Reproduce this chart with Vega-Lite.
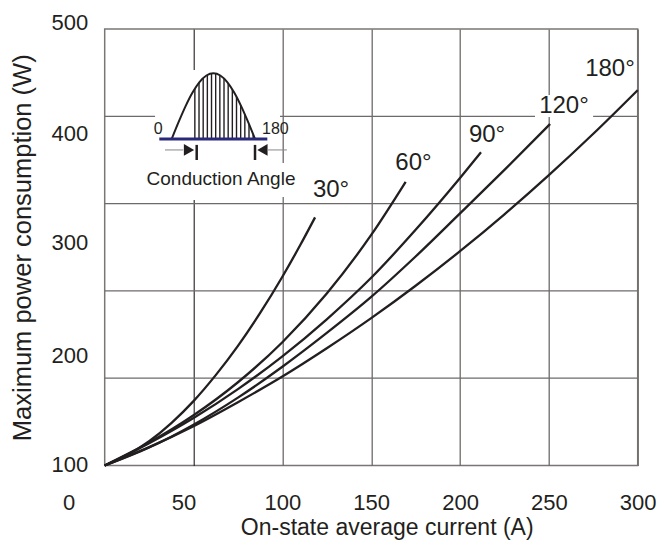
{
  "$schema": "https://vega.github.io/schema/vega-lite/v6.json",
  "autosize": {"type": "none"},
  "width": 533,
  "height": 436.5,
  "padding": {"left": 104.7, "top": 29, "right": 20.3, "bottom": 79.5},
  "background": "white",
  "config": {
    "font": "Liberation Sans",
    "view": {"stroke": "#7a7676", "strokeWidth": 1.5},
    "axis": {
      "domain": false, "ticks": false, "tickSize": 0,
      "labelFont": "Liberation Sans", "labelFontSize": 22, "labelColor": "#231f20",
      "labelFlush": false, "labelOverlap": false,
      "titleFont": "Liberation Sans", "titleFontWeight": "normal", "titleColor": "#231f20",
      "gridColor": "#6e6a6a", "gridWidth": 1.3
    }
  },
  "datasets": {
    "curves": [
      {"series": "30°", "I": 0, "P": 100}, {"series": "30°", "I": 12.5, "P": 109.3}, {"series": "30°", "I": 25, "P": 122.2}, {"series": "30°", "I": 37.5, "P": 138.9}, {"series": "30°", "I": 50, "P": 159}, {"series": "30°", "I": 62.5, "P": 182.8}, {"series": "30°", "I": 75, "P": 209.6}, {"series": "30°", "I": 87.5, "P": 239.8}, {"series": "30°", "I": 100, "P": 273}, {"series": "30°", "I": 110, "P": 301.8}, {"series": "30°", "I": 118.4, "P": 327.4},
      {"series": "60°", "I": 0, "P": 100}, {"series": "60°", "I": 25, "P": 121}, {"series": "60°", "I": 50, "P": 146}, {"series": "60°", "I": 75, "P": 176.3}, {"series": "60°", "I": 100, "P": 213}, {"series": "60°", "I": 125, "P": 257.6}, {"series": "60°", "I": 150, "P": 311.3}, {"series": "60°", "I": 169.4, "P": 360},
      {"series": "90°", "I": 0, "P": 100}, {"series": "90°", "I": 25, "P": 120.4}, {"series": "90°", "I": 50, "P": 143.5}, {"series": "90°", "I": 75, "P": 170}, {"series": "90°", "I": 100, "P": 200}, {"series": "90°", "I": 125, "P": 234}, {"series": "90°", "I": 150, "P": 272}, {"series": "90°", "I": 175, "P": 316}, {"series": "90°", "I": 200, "P": 363.5}, {"series": "90°", "I": 211.8, "P": 387},
      {"series": "120°", "I": 0, "P": 100}, {"series": "120°", "I": 25, "P": 116.5}, {"series": "120°", "I": 50, "P": 137.4}, {"series": "120°", "I": 75, "P": 162.2}, {"series": "120°", "I": 100, "P": 190.5}, {"series": "120°", "I": 125, "P": 221.5}, {"series": "120°", "I": 150, "P": 254.5}, {"series": "120°", "I": 175, "P": 291.5}, {"series": "120°", "I": 200, "P": 331}, {"series": "120°", "I": 225, "P": 370.9}, {"series": "120°", "I": 250.7, "P": 413},
      {"series": "180°", "I": 0, "P": 100}, {"series": "180°", "I": 25, "P": 116.8}, {"series": "180°", "I": 50, "P": 136}, {"series": "180°", "I": 75, "P": 158}, {"series": "180°", "I": 100, "P": 181.5}, {"series": "180°", "I": 125, "P": 207.4}, {"series": "180°", "I": 150, "P": 235}, {"series": "180°", "I": 175, "P": 264.7}, {"series": "180°", "I": 200, "P": 296.4}, {"series": "180°", "I": 225, "P": 330.2}, {"series": "180°", "I": 250, "P": 366.1}, {"series": "180°", "I": 275, "P": 404}, {"series": "180°", "I": 300, "P": 444}
    ],
    "hgrid": [{"P": 180}, {"P": 260}, {"P": 340}, {"P": 420}],
    "curveLabels": [
      {"label": "30°", "I": 127.4, "P": 352.5},
      {"label": "60°", "I": 173.8, "P": 377.2},
      {"label": "90°", "I": 215.2, "P": 403.3},
      {"label": "120°", "I": 258.5, "P": 429.4},
      {"label": "180°", "I": 284.4, "P": 463.3}
    ],
    "labelBg": [{"I": 242.2, "I2": 274.9, "P": 419.4, "P2": 439.5}],
    "insetBox": [
      {"a": -36, "a2": 234, "s": 1.05, "s2": -0.93},
      {"a": -68.5, "a2": 262.6, "s": -0.365, "s2": -0.883}
    ],
    "insetBase": [{"a": -26.8, "a2": 206.6, "s": 0}],
    "insetWave": [
      {"a": 0, "s": 0}, {"a": 15, "s": 0.259}, {"a": 30, "s": 0.5}, {"a": 45, "s": 0.707}, {"a": 60, "s": 0.866}, {"a": 75, "s": 0.966}, {"a": 90, "s": 1}, {"a": 105, "s": 0.966}, {"a": 120, "s": 0.866}, {"a": 135, "s": 0.707}, {"a": 150, "s": 0.5}, {"a": 165, "s": 0.259}, {"a": 180, "s": 0}
    ],
    "insetHatch": [
      {"a": 50, "s0": 0, "s": 0.766}, {"a": 59, "s0": 0, "s": 0.857}, {"a": 68, "s0": 0, "s": 0.927}, {"a": 77, "s0": 0, "s": 0.974}, {"a": 86, "s0": 0, "s": 0.998}, {"a": 95, "s0": 0, "s": 0.996}, {"a": 104, "s0": 0, "s": 0.97}, {"a": 113, "s0": 0, "s": 0.921}, {"a": 122, "s0": 0, "s": 0.848}, {"a": 131, "s0": 0, "s": 0.755}, {"a": 140, "s0": 0, "s": 0.643}, {"a": 149, "s0": 0, "s": 0.515}, {"a": 158, "s0": 0, "s": 0.375}, {"a": 167, "s0": 0, "s": 0.225}, {"a": 176, "s0": 0, "s": 0.07}
    ],
    "insetLeads": [{"a": -14.5, "a2": 25, "s": -0.167}, {"a": 208, "a2": 249, "s": -0.167}],
    "insetBars": [{"a": 54, "s": -0.09, "s2": -0.32}, {"a": 180, "s": -0.09, "s2": -0.32}],
    "insetHeads": [{"a": 37.4, "s": -0.167, "dir": "right"}, {"a": 196, "s": -0.167, "dir": "left"}],
    "insetEnds": [{"t": "0", "a": -29, "s": 0.148}, {"t": "180", "a": 224, "s": 0.148}],
    "insetCaption": [{"t": "Conduction Angle", "a": 106.5, "s": -0.609}]
  },
  "layer": [
    {
      "data": {"name": "hgrid"},
      "mark": {"type": "rule", "color": "#6e6a6a", "strokeWidth": 1.3},
      "encoding": {
        "y": {
          "field": "P", "type": "quantitative",
          "scale": {"domain": [100, 500], "nice": false, "zero": false},
          "axis": {
            "orient": "left",
            "values": [100, 200],
            "grid": false,
            "labelPadding": 17,
            "labelOffset": -1,
            "title": "Maximum power consumption (W)",
            "titleFontSize": 25.5,
            "titlePadding": 15
          }
        }
      }
    },
    {
      "layer": [
        {
          "data": {"name": "insetBox"},
          "mark": {"type": "rect", "fill": "white", "strokeWidth": 0},
          "encoding": {
            "x": {"field": "a", "type": "quantitative", "scale": {"domain": [-144.8, 1006.9], "nice": false, "zero": false}, "axis": null},
            "x2": {"field": "a2"},
            "y": {"field": "s", "type": "quantitative", "scale": {"domain": [-4.97, 1.674], "nice": false, "zero": false}, "axis": null},
            "y2": {"field": "s2"}
          }
        },
        {
          "data": {"name": "insetHatch"},
          "mark": {"type": "rule", "color": "#231f20", "strokeWidth": 1.4},
          "encoding": {
            "x": {"field": "a", "type": "quantitative", "axis": null},
            "y": {"field": "s0", "type": "quantitative", "axis": null},
            "y2": {"field": "s"}
          }
        },
        {
          "data": {"name": "insetWave"},
          "mark": {"type": "line", "color": "#231f20", "strokeWidth": 2, "interpolate": "monotone"},
          "encoding": {
            "x": {"field": "a", "type": "quantitative", "axis": null},
            "y": {"field": "s", "type": "quantitative", "axis": null}
          }
        },
        {
          "data": {"name": "insetBase"},
          "mark": {"type": "rule", "color": "#2a2878", "strokeWidth": 3},
          "encoding": {
            "x": {"field": "a", "type": "quantitative", "axis": null},
            "x2": {"field": "a2"},
            "y": {"field": "s", "type": "quantitative", "axis": null}
          }
        },
        {
          "data": {"name": "insetLeads"},
          "mark": {"type": "rule", "color": "#8a8686", "strokeWidth": 1},
          "encoding": {
            "x": {"field": "a", "type": "quantitative", "axis": null},
            "x2": {"field": "a2"},
            "y": {"field": "s", "type": "quantitative", "axis": null}
          }
        },
        {
          "data": {"name": "insetBars"},
          "mark": {"type": "rule", "color": "#231f20", "strokeWidth": 2.5},
          "encoding": {
            "x": {"field": "a", "type": "quantitative", "axis": null},
            "y": {"field": "s", "type": "quantitative", "axis": null},
            "y2": {"field": "s2"}
          }
        },
        {
          "data": {"name": "insetHeads"},
          "mark": {"type": "point", "filled": true, "color": "#231f20", "size": 140, "opacity": 1},
          "encoding": {
            "x": {"field": "a", "type": "quantitative", "axis": null},
            "y": {"field": "s", "type": "quantitative", "axis": null},
            "shape": {"field": "dir", "type": "nominal", "scale": {"domain": ["right", "left"], "range": ["triangle-right", "triangle-left"]}, "legend": null}
          }
        },
        {
          "data": {"name": "insetEnds"},
          "mark": {"type": "text", "font": "Liberation Sans", "fontSize": 16, "color": "#231f20", "align": "center", "baseline": "middle"},
          "encoding": {
            "x": {"field": "a", "type": "quantitative", "axis": null},
            "y": {"field": "s", "type": "quantitative", "axis": null},
            "text": {"field": "t"}
          }
        },
        {
          "data": {"name": "insetCaption"},
          "mark": {"type": "text", "font": "Liberation Sans", "fontSize": 19, "color": "#231f20", "align": "center", "baseline": "middle"},
          "encoding": {
            "x": {"field": "a", "type": "quantitative", "axis": null},
            "y": {"field": "s", "type": "quantitative", "axis": null},
            "text": {"field": "t"}
          }
        }
      ]
    },
    {
      "layer": [
        {
          "data": {"name": "curves"},
          "mark": {"type": "line", "color": "#231f20", "strokeWidth": 2.3, "interpolate": "monotone"},
          "encoding": {
            "x": {
              "field": "I", "type": "quantitative",
              "scale": {"domain": [0, 300], "nice": false, "zero": false},
              "axis": {
                "orient": "bottom",
                "values": [100, 150, 200, 250, 300],
                "grid": true,
                "labelPadding": 27,
                "title": "On-state average current (A)",
                "titleFontSize": 23,
                "titlePadding": 3, "titleX": 282
              }
            },
            "y": {
              "field": "P", "type": "quantitative",
              "scale": {"domain": [100, 500], "nice": false, "zero": false},
              "axis": {"orient": "left", "values": [300, 400], "grid": false, "labelPadding": 17, "labelOffset": -5, "title": null}
            },
            "detail": {"field": "series"}
          }
        },
        {
          "data": {"name": "labelBg"},
          "mark": {"type": "rect", "fill": "white", "strokeWidth": 0},
          "encoding": {
            "x": {
              "field": "I", "type": "quantitative",
              "axis": {"orient": "bottom", "values": [50], "grid": true, "gridColor": "#231f20", "gridWidth": 1.1, "labelPadding": 27, "labelOffset": -10, "title": null}
            },
            "x2": {"field": "I2"},
            "y": {
              "field": "P", "type": "quantitative",
              "axis": {"orient": "left", "values": [500], "grid": false, "labelPadding": 17, "labelOffset": -7, "title": null}
            },
            "y2": {"field": "P2"}
          }
        },
        {
          "data": {"name": "curveLabels"},
          "mark": {"type": "text", "font": "Liberation Sans", "fontSize": 24, "color": "#231f20", "align": "center", "baseline": "middle"},
          "encoding": {
            "x": {
              "field": "I", "type": "quantitative",
              "axis": {"orient": "bottom", "values": [0], "grid": false, "labelPadding": 27, "labelOffset": -36, "title": null}
            },
            "y": {"field": "P", "type": "quantitative", "axis": null},
            "text": {"field": "label"}
          }
        }
      ],
      "resolve": {"axis": {"x": "independent", "y": "independent"}}
    }
  ],
  "resolve": {"scale": {"x": "independent", "y": "independent"}}
}
